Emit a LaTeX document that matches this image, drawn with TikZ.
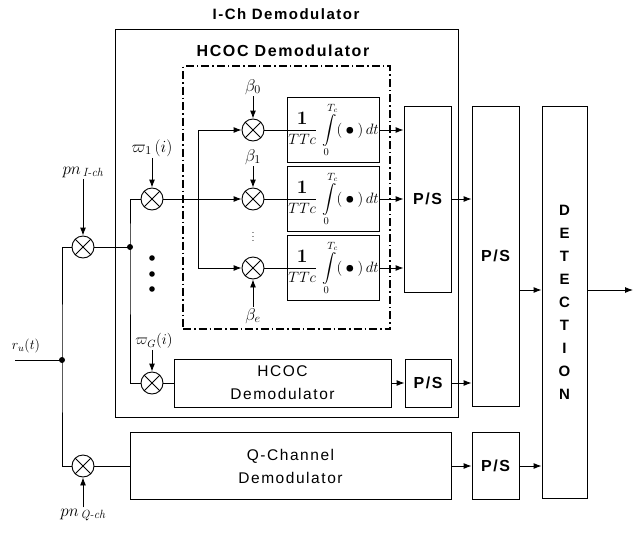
\RequirePackage{fix-cm}
\documentclass[tikz,border=0pt]{standalone}
\usepackage{amsmath}
\usepackage[no-math]{fontspec}
\newfontfamily\lsans[LetterSpace=10]{Liberation Sans}
\usetikzlibrary{arrows.meta,calc}
\newcommand\integf{$\displaystyle\frac{\text{\fontsize{19}{19}\selectfont\bfseries 1}}{TTc}\,\int\limits_{0}^{T_c}\!\mathbf{(}\boldsymbol{\bullet}\mathbf{)}\,dt$}
\tikzset{
  arr/.style={-{Latex[length=8pt,width=6pt]}},
  blk/.style={draw, inner sep=0pt},
  mult/.style={circle, draw, minimum size=22pt, inner sep=0pt,
    path picture={\draw (path picture bounding box.north west)--(path picture bounding box.south east)
                        (path picture bounding box.north east)--(path picture bounding box.south west);}},
  jdot/.style={circle, fill, inner sep=0pt, minimum size=6pt},
  ttl/.style={font=\lsans\bfseries\fontsize{15}{18}\selectfont},
  pslbl/.style={font=\lsans\bfseries\fontsize{16}{19}\selectfont},
  boxlbl/.style={font=\lsans\fontsize{15.5}{23}\selectfont, align=center},
  mlbl/.style={font=\fontsize{17}{19}\selectfont, inner sep=1pt},
  integ/.style={blk, minimum width=92pt, minimum height=65pt, font=\fontsize{15}{17}\selectfont},
}
\begin{document}
\begin{tikzpicture}[x=1pt,y=-1pt,line width=0.9pt]
\useasboundingbox (0,0) rectangle (635,533);

% outer I-Ch box and HCOC dash-dot box
\node[blk, minimum width=343pt, minimum height=388pt] (ich) at (286.5,223) {};
\node[ttl] (ichT) at (286,14) {I-Ch Demodulator};
\node[draw, inner sep=0pt, line width=1.6pt, dash pattern=on 8pt off 3pt on 1.5pt off 3pt,
      minimum width=207pt, minimum height=263pt] (hcb) at (286.5,197.5) {};
\node[ttl, font=\lsans\bfseries\fontsize{16}{19}\selectfont] (hcT) at (283,51) {HCOC Demodulator};

% multipliers in the HCOC block
\node[mult] (b0) at (253,130) {};
\node[mult] (b1) at (253,199) {};
\node[mult] (be) at (253,268) {};
\node[mlbl] (lb0) at (253,87) {$\beta_0$};
\node[mlbl] (lb1) at (253,157) {$\beta_1$};
\node[mlbl] (lbe) at (253,316) {$\beta_e$};
\draw[arr] (lb0.south) -- (b0.north);
\draw[arr] (lb1.south) -- (b1.north);
\draw[arr] (lbe.north) -- (be.south);
\node[font=\fontsize{11}{12}\selectfont, inner sep=0pt] (vd) at (253,234) {$\vdots$};

% integrators
\node[integ] (i0) at (333,130) {\integf};
\node[integ] (i1) at (333,199) {\integf};
\node[integ] (ie) at (333,268) {\integf};
\draw (b0.east) -- (i0.west);
\draw (b1.east) -- (i1.west);
\draw (be.east) -- (ie.west);

% P/S and detection blocks
\node[blk, minimum width=47pt, minimum height=186pt, pslbl] (ps1) at (427.5,199) {P/S};
\node[blk, minimum width=47pt, minimum height=300pt, pslbl] (ps2) at (495.5,256) {P/S};
\node[blk, minimum width=45pt, minimum height=392pt, align=center,
      font=\lsans\bfseries\fontsize{15}{23}\selectfont] (det) at (564.5,302) {D\\E\\T\\E\\C\\T\\I\\O\\N};
\draw[arr] (i0.east) -- (i0.east -| ps1.west);
\draw[arr] (i1.east) -- (i1.east -| ps1.west);
\draw[arr] (ie.east) -- (ie.east -| ps1.west);
\draw[arr] (ps1.east) -- (ps1.east -| ps2.west);
\path (ps2.east) ++(0,34) coordinate (a1);
\draw[arr] (a1) -- (a1 -| det.west);
\coordinate (out) at (633,290);
\draw[arr] (out -| det.east) -- (out);

% lower HCOC branch
\node[blk, minimum width=217pt, minimum height=48pt, boxlbl] (hcl) at (282.5,383) {HCOC\\Demodulator};
\node[blk, minimum width=46pt, minimum height=48pt, pslbl] (pss) at (428,383) {P/S};
\node[mult] (mG) at (152,383) {};
\node[mlbl, font=\fontsize{15}{17}\selectfont] (lG) at (154,341) {$\varpi_G(i)$};
\draw[arr] (lG.south -| mG.north) -- (mG.north);
\draw (mG.east) -- (hcl.west);
\draw[arr] (hcl.east) -- (pss.west);
\draw[arr] (pss.east) -- (pss.east -| ps2.west);

% Q channel
\node[blk, minimum width=321pt, minimum height=67pt, boxlbl] (qb) at (290.5,466) {Q-Channel\\Demodulator};
\node[blk, minimum width=47pt, minimum height=67pt, pslbl] (psq) at (495.5,466) {P/S};
\node[mult] (mQ) at (83,466) {};
\node[mlbl] (lQ) at (83,515) {$pn_{\,\textit{Q-ch}}$};
\draw[arr] (lQ.north) -- (mQ.south);
\draw (mQ.east) -- (qb.west);
\draw[arr] (qb.east) -- (psq.west);
\draw[arr] (psq.east) -- (psq.east -| det.west);

% I channel front end
\node[mult] (mI) at (83,247) {};
\node[mlbl] (lI) at (83,172) {$pn_{\,\textit{I-ch}}$};
\draw[arr] (lI.south) -- (mI.north);
\node[jdot] (dL) at (62,360) {};
\coordinate (rin) at (15,360);
\node[mlbl, font=\fontsize{14}{16}\selectfont] (lr) at (26,346) {$r_u(t)$};
\draw (rin) -- (dL.center);
\draw (mI.west) -| (dL.center) |- (mQ.west);
\node[jdot] (dI) at (130,247) {};
\draw (mI.east) -- (dI.center);
\node[mult] (m1) at (152,199) {};
\node[mlbl] (l1) at (152,148) {$\varpi_1\,(i)$};
\draw[arr] (l1.south) -- (m1.north);
\draw (m1.west) -| (dI.center) |- (mG.west);
\coordinate (jB) at (198,199);
\draw (m1.east) -- (jB);
\draw[arr] (jB) |- (b0.west);
\draw[arr] (jB) -- (b1.west);
\draw[arr] (jB) |- (be.west);
\fill (152,258) circle (2.8);
\fill (152,274) circle (2.8);
\fill (152,289) circle (2.8);
\end{tikzpicture}
\end{document}
